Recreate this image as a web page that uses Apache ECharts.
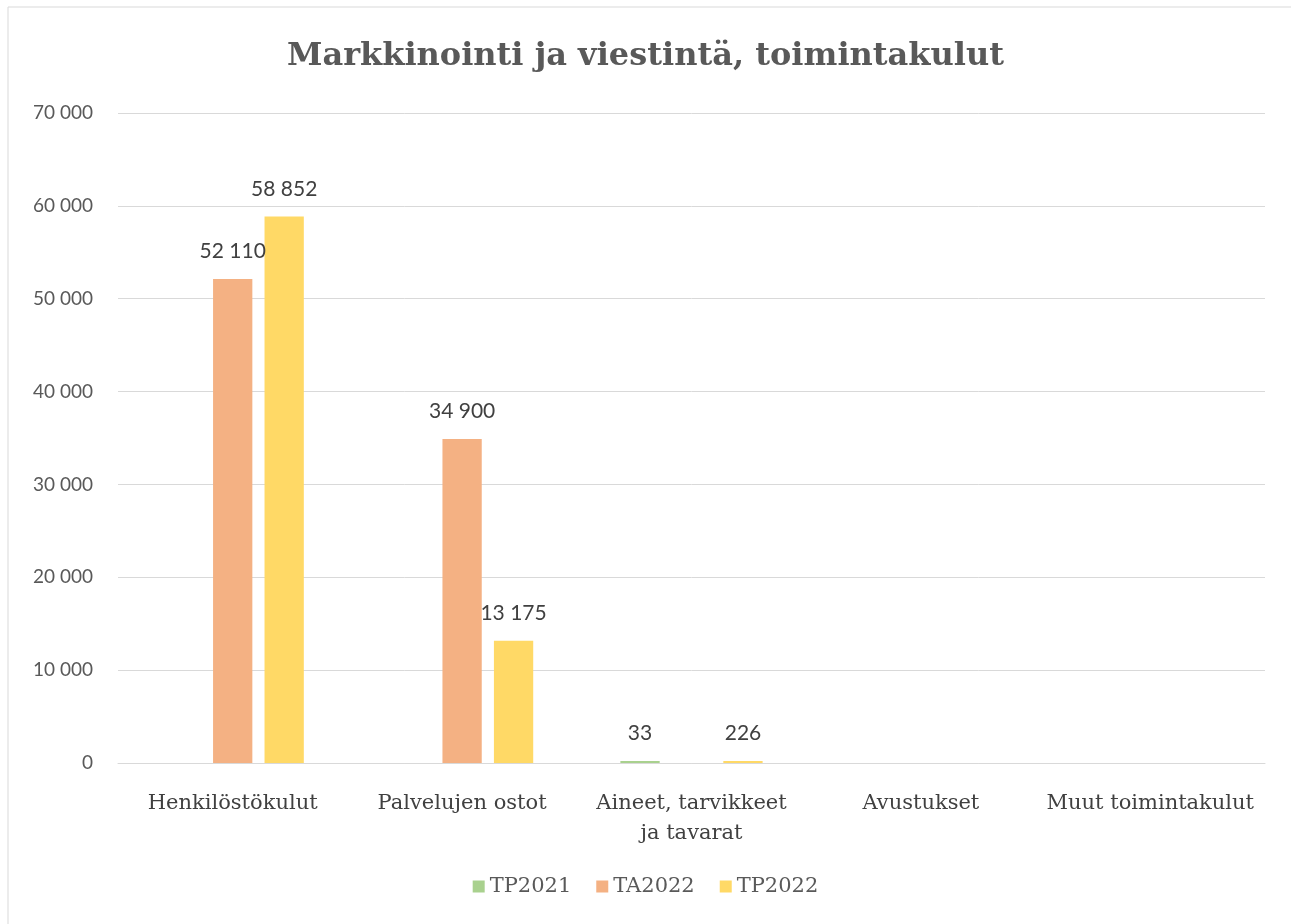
<!DOCTYPE html>
<html>
<head>
<meta charset="utf-8">
<script src="https://cdn.jsdelivr.net/npm/echarts@6/dist/echarts.min.js"></script>
<style>
html,body{margin:0;padding:0;background:#fff;}
#c{width:1291px;height:924px;}
</style>
</head>
<body>
<div id="c"></div>
<script>
const titleText = 'Markkinointi ja viestintä, toimintakulut';
const categories = ['Henkilöstökulut', 'Palvelujen ostot', 'Aineet, tarvikkeet ja tavarat', 'Avustukset', 'Muut toimintakulut'];
const seriesNames = ['TP2021', 'TA2022', 'TP2022'];
const tp2021 = [null, null, 33, null, null];
const ta2022 = [52110, 34900, null, null, null];
const tp2022 = [58852, 13175, 226, null, null];
const yTicks = [0, 10000, 20000, 30000, 40000, 50000, 60000, 70000];
const colors = ['#a9d18e', '#f4b183', '#ffd966'];

const fmt = v => String(Math.round(v)).replace(/\B(?=(\d{3})+(?!\d))/g, ' ');
const serif = '"DejaVu Serif", serif';
const sans = 'Lato, "Open Sans", sans-serif';

const chart = echarts.init(document.getElementById('c'), null, {renderer: 'canvas'});
const mk = (name, data, color) => ({
  name, type: 'bar', data,
  itemStyle: {color},
  barGap: '31%', barCategoryGap: '38%',
  barMinHeight: 2,
  label: {show: true, position: 'top', distance: 17, color: '#404040', fontFamily: sans, fontSize: 21,
    formatter: p => p.value == null ? '' : fmt(p.value)}
});
chart.setOption({
  animation: false,
  backgroundColor: '#fff',
  graphic: [{type: 'rect', shape: {x: 8, y: 7, width: 1300, height: 940}, style: {fill: 'none', stroke: '#d9d9d9', lineWidth: 1}, silent: true}],
  title: {text: titleText, left: 'center', top: 36,
    textStyle: {fontFamily: serif, fontSize: 32, fontWeight: 'bold', color: '#595959'}},
  legend: {data: seriesNames, bottom: 22, left: 'center', itemWidth: 12, itemHeight: 12, itemGap: 25, icon: 'rect',
    textStyle: {fontFamily: serif, fontSize: 21, color: '#595959'}},
  grid: {left: 118, right: 26, top: 113, bottom: 161},
  xAxis: {type: 'category', data: categories,
    axisLine: {lineStyle: {color: '#d9d9d9'}}, axisTick: {show: false},
    axisLabel: {fontFamily: serif, fontSize: 21, color: '#404040', margin: 26, lineHeight: 30, interval: 0,
      formatter: v => v.replace(' ja ', '\nja ')}},
  yAxis: {type: 'value', min: 0, max: 70000, interval: 10000,
    axisLine: {show: false}, axisTick: {show: false},
    splitLine: {lineStyle: {color: '#d9d9d9'}},
    axisLabel: {fontFamily: sans, fontSize: 19, color: '#595959', margin: 25, formatter: v => yTicks.includes(v) ? fmt(v) : ''}},
  series: [mk(seriesNames[0], tp2021, colors[0]), mk(seriesNames[1], ta2022, colors[1]), mk(seriesNames[2], tp2022, colors[2])]
});
</script>
</body>
</html>
